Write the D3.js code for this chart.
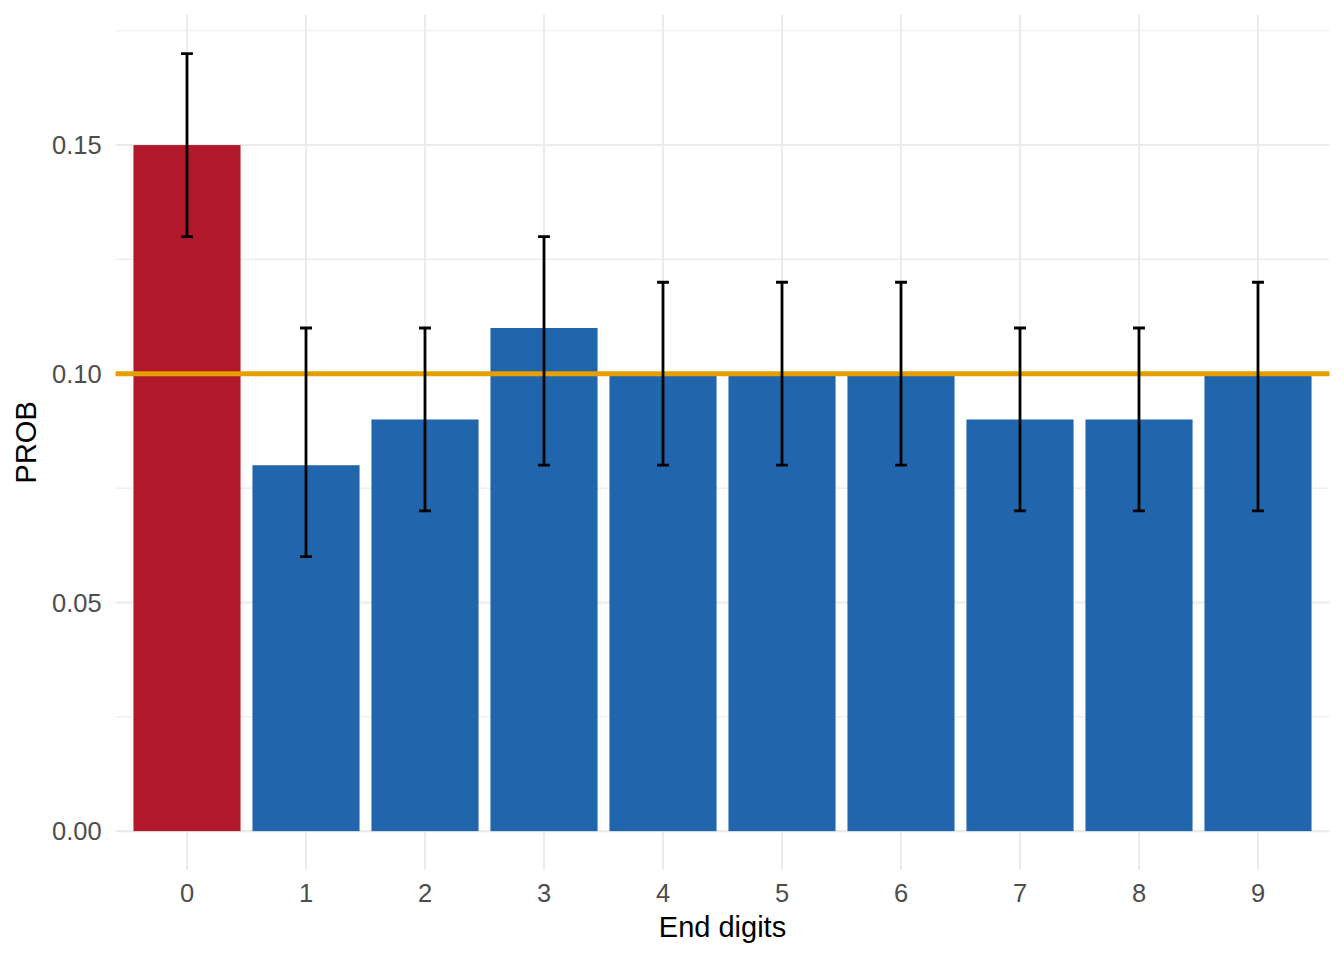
<!DOCTYPE html>
<html>
<head>
<meta charset="utf-8">
<script src="https://cdn.jsdelivr.net/npm/d3@7"></script>
<style>
  body { margin: 0; background: #fff; }
  svg text { font-family: "Liberation Sans", Arial, sans-serif; }
  .grid-major line { stroke: #EBEBEB; stroke-width: 2.1; }
  .grid-minor line { stroke: #EBEBEB; stroke-width: 1.1; }
  .tick-label { fill: #4D4D4D; font-size: 25.5px; }
  .axis-title { fill: #000; font-size: 29px; }
  .errbar { stroke: #000; stroke-width: 2.8; fill: none; }
</style>
</head>
<body>
<script>
// End digits data
var digits = ["0", "1", "2", "3", "4", "5", "6", "7", "8", "9"];
var prob   = [0.15, 0.08, 0.09, 0.11, 0.10, 0.10, 0.10, 0.09, 0.09, 0.10];
var lower  = [0.13, 0.06, 0.07, 0.08, 0.08, 0.08, 0.08, 0.07, 0.07, 0.07];
var upper  = [0.17, 0.11, 0.11, 0.13, 0.12, 0.12, 0.12, 0.11, 0.11, 0.12];
var highlight = ["0"];
var reference = 0.10;
var yMajor = [0, 0.05, 0.10, 0.15];
var yMinor = [0.025, 0.075, 0.125, 0.175];

var width = 1344, height = 960;
var margin = {top: 14.7, right: 14.6, bottom: 90, left: 115.6};
var innerW = width - margin.left - margin.right;
var innerH = height - margin.top - margin.bottom;

var svg = d3.select("body").append("svg")
    .attr("width", width)
    .attr("height", height);

var g = svg.append("g")
    .attr("transform", "translate(" + margin.left + "," + margin.top + ")");

// discrete x: 0.6 unit expansion either side, bar width 0.9
var step = innerW / (digits.length - 1 + 1.2);
var x = d3.scalePoint()
    .domain(digits)
    .range([0.6 * step, innerW - 0.6 * step]);
var barW = 0.9 * step;
var capW = 0.1 * step;

var yMax = d3.max(upper);
var pad = yMax * 0.05;
var y = d3.scaleLinear()
    .domain([-pad, yMax + pad])
    .range([innerH, 0]);

// gridlines
g.append("g").attr("class", "grid-minor")
    .selectAll("line").data(yMinor).enter().append("line")
    .attr("x1", 0).attr("x2", innerW)
    .attr("y1", function (d) { return y(d); })
    .attr("y2", function (d) { return y(d); });

g.append("g").attr("class", "grid-major")
    .selectAll("line").data(yMajor).enter().append("line")
    .attr("x1", 0).attr("x2", innerW)
    .attr("y1", function (d) { return y(d); })
    .attr("y2", function (d) { return y(d); });

g.append("g").attr("class", "grid-major")
    .selectAll("line").data(digits).enter().append("line")
    .attr("x1", function (d) { return x(d); })
    .attr("x2", function (d) { return x(d); })
    .attr("y1", 0).attr("y2", innerH);

// bars
g.selectAll(".bar").data(digits).enter().append("rect")
    .attr("class", "bar")
    .attr("x", function (d) { return x(d) - barW / 2; })
    .attr("width", barW)
    .attr("y", function (d, i) { return y(prob[i]); })
    .attr("height", function (d, i) { return y(0) - y(prob[i]); })
    .attr("fill", function (d) { return highlight.indexOf(d) >= 0 ? "#B2182B" : "#2166AC"; });

// reference line
g.append("line")
    .attr("x1", 0).attr("x2", innerW)
    .attr("y1", y(reference)).attr("y2", y(reference))
    .attr("stroke", "#E69F00")
    .attr("stroke-width", 5);

// error bars
var eb = g.selectAll(".eb").data(digits).enter().append("g")
    .attr("class", "eb")
    .attr("transform", function (d) { return "translate(" + x(d) + ",0)"; });

eb.append("path")
    .attr("class", "errbar")
    .attr("d", function (d, i) {
        var lo = y(lower[i]), hi = y(upper[i]);
        return "M" + (-capW / 2) + "," + hi + "H" + (capW / 2) +
               "M0," + hi + "V" + lo +
               "M" + (-capW / 2) + "," + lo + "H" + (capW / 2);
    });

// axes labels
g.selectAll(".ylab").data(yMajor).enter().append("text")
    .attr("class", "tick-label")
    .attr("x", -14)
    .attr("y", function (d) { return y(d); })
    .attr("dy", "0.36em")
    .attr("text-anchor", "end")
    .text(d3.format(".2f"));

g.selectAll(".xlab").data(digits).enter().append("text")
    .attr("class", "tick-label")
    .attr("x", function (d) { return x(d); })
    .attr("y", 902 - margin.top)
    .attr("text-anchor", "middle")
    .text(function (d) { return d; });

svg.append("text")
    .attr("class", "axis-title")
    .attr("x", margin.left + innerW / 2)
    .attr("y", 937)
    .attr("text-anchor", "middle")
    .text("End digits");

svg.append("text")
    .attr("class", "axis-title")
    .attr("transform", "translate(36," + (margin.top + innerH / 2) + ") rotate(-90)")
    .attr("text-anchor", "middle")
    .text("PROB");
</script>
</body>
</html>
